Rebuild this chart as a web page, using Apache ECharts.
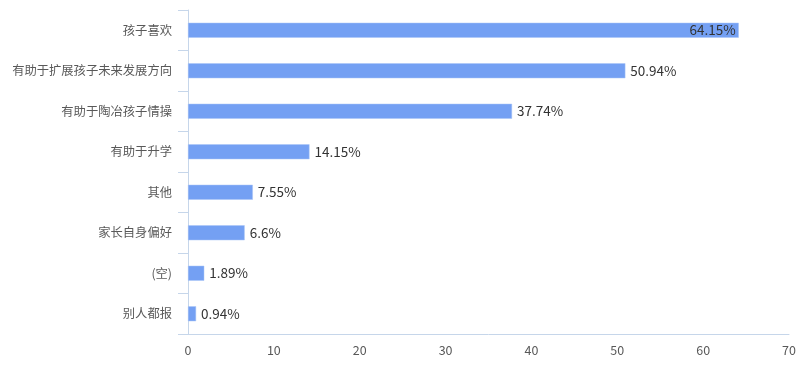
<!DOCTYPE html>
<html>
<head>
<meta charset="utf-8">
<script src="https://cdn.jsdelivr.net/npm/echarts@6/dist/echarts.min.js"></script>
<style>
html,body{margin:0;padding:0;background:#fff;}
#main{width:800px;height:375px;}
</style>
</head>
<body>
<div id="main"></div>
<script>
const categories = ["别人都报", "(空)", "家长自身偏好", "其他", "有助于升学", "有助于陶冶孩子情操", "有助于扩展孩子未来发展方向", "孩子喜欢"];
const values = [0.94, 1.89, 6.6, 7.55, 14.15, 37.74, 50.94, 64.15];
const xTicks = [0, 10, 20, 30, 40, 50, 60, 70];

const chart = echarts.init(document.getElementById('main'));
const font = '"Noto Sans CJK SC", "Microsoft YaHei", sans-serif';
chart.setOption({
  animation: false,
  grid: { left: 188, right: 11, top: 10, bottom: 41, containLabel: false },
  xAxis: {
    type: 'value',
    min: xTicks[0],
    max: xTicks[xTicks.length - 1],
    interval: 10,
    axisLine: { show: true, lineStyle: { color: '#c6d6ea', width: 1 } },
    axisTick: { show: false },
    splitLine: { show: false },
    axisLabel: { color: '#595959', fontSize: 12.5, fontFamily: font, margin: 10 }
  },
  yAxis: {
    type: 'category',
    data: categories,
    axisLine: { show: true, lineStyle: { color: '#c6d6ea', width: 1 } },
    axisTick: { show: true, length: 10, lineStyle: { color: '#c6d6ea' } },
    axisLabel: { color: '#595959', fontSize: 12.3, fontFamily: font, margin: 16 }
  },
  series: [{
    type: 'bar',
    data: values.map((v, i) => i === values.length - 1
      ? { value: v, label: { position: 'insideRight', distance: 3 } }
      : v),
    barWidth: 15,
    itemStyle: { color: '#74a0f3', borderColor: '#a9c4f7', borderWidth: 0.5 },
    label: {
      show: true,
      position: 'right',
      distance: 5,
      color: '#333',
      fontSize: 13.5,
      fontFamily: font,
      formatter: p => p.value + '%'
    }
  }]
});
</script>
</body>
</html>
